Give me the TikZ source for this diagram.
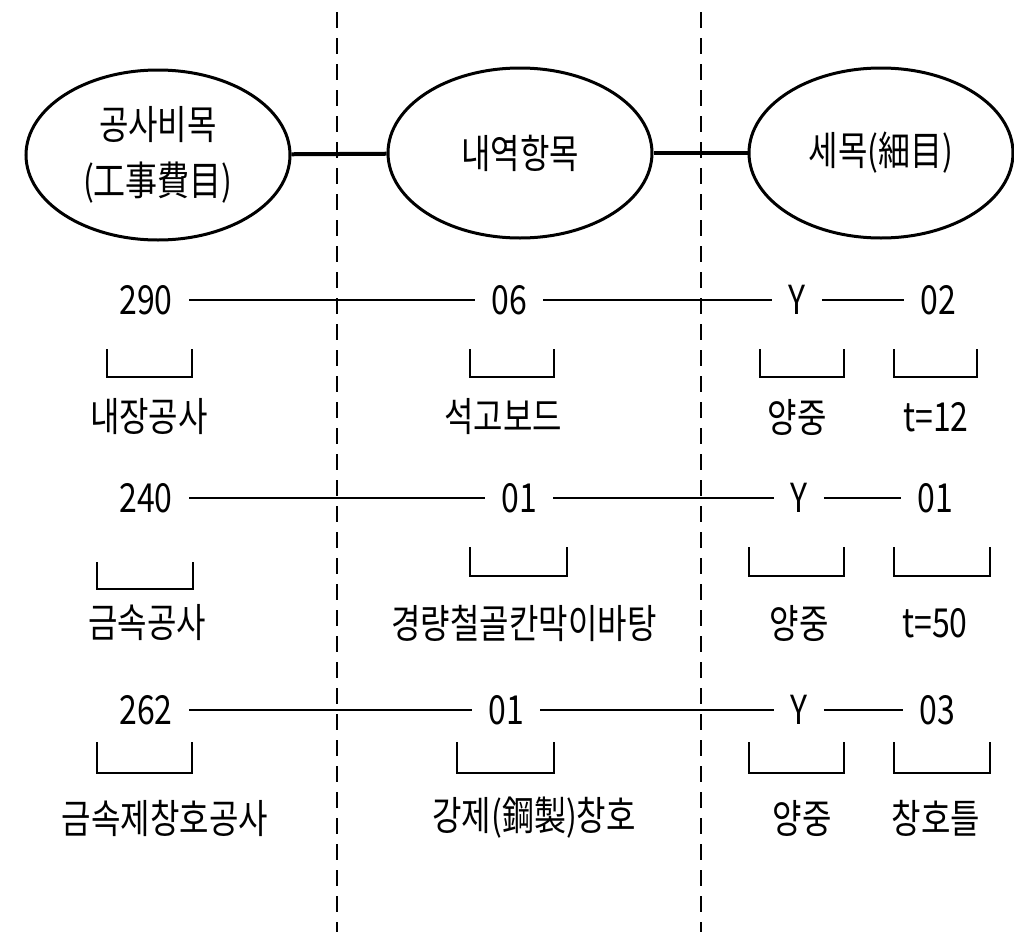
\documentclass[tikz,border=0pt]{standalone}
\usepackage{fontspec}
\setmainfont{Noto Sans CJK KR}[FakeStretch=0.8]
\usetikzlibrary{shapes.geometric}

\begin{document}
\begin{tikzpicture}[x=0.5pt, y=-0.5pt,
                    every node/.style={font=\fontsize{20}{28}\selectfont},
                    main node/.style={ellipse,draw,line width=1.5pt,minimum width=132pt,minimum height=85pt,inner sep=0pt,align=center},
                    code node/.style={inner xsep=8pt,inner ysep=2pt},
                    link/.style={line width=2pt},
                    thin link/.style={line width=1pt},
                    bracket/.style={line width=1pt},
                    divider/.style={line width=1pt,dash pattern=on 8pt off 5pt}]

   \useasboundingbox (0,0) rectangle (1014,932);

   % dividers
   \draw[divider] (337,12) -- (337,932);
   \draw[divider] (701,12) -- (701,932);

   % headings
   \node[main node] (e1) at (158,155) {공사비목\\(工事費目)};
   \node[main node] (e2) at (520,153) {내역항목};
   \node[main node] (e3) at (881,153) {세목(細目)};
   \draw[link] (e1) -- (e2);
   \draw[link] (e2) -- (e3);

   % first row
   \node[code node] (11) at (146,300) {290};
   \node[code node] (12) at (509,300) {06};
   \node[code node] (13) at (797,300) {Y};
   \node[code node] (14) at (938,300) {02};
   \draw[thin link] (11) -- (12);
   \draw[thin link] (12) -- (13);
   \draw[thin link] (13) -- (14);
   \draw[bracket] (107,349) |- (192,377) -- (192,349);
   \draw[bracket] (470,349) |- (554,377) -- (554,349);
   \draw[bracket] (760,349) |- (844,377) -- (844,349);
   \draw[bracket] (894,349) |- (977,377) -- (977,349);
   \node (l11) at (149,417) {내장공사};
   \node (l12) at (503,417) {석고보드};
   \node (l13) at (797,417) {양중};
   \node (l14) at (936,417) {t=12};

   % second row
   \node[code node] (21) at (146,498) {240};
   \node[code node] (22) at (519,498) {01};
   \node[code node] (23) at (799,498) {Y};
   \node[code node] (24) at (935,498) {01};
   \draw[thin link] (21) -- (22);
   \draw[thin link] (22) -- (23);
   \draw[thin link] (23) -- (24);
   \draw[bracket] (97,562) |- (193,589) -- (193,562);
   \draw[bracket] (470,547) |- (567,576) -- (567,547);
   \draw[bracket] (749,547) |- (844,576) -- (844,547);
   \draw[bracket] (894,547) |- (990,576) -- (990,547);
   \node (l21) at (147,623) {금속공사};
   \node (l22) at (524,623) {경량철골칸막이바탕};
   \node (l23) at (799,623) {양중};
   \node (l24) at (935,623) {t=50};

   % third row
   \node[code node] (31) at (146,710) {262};
   \node[code node] (32) at (506,710) {01};
   \node[code node] (33) at (799,710) {Y};
   \node[code node] (34) at (937,710) {03};
   \draw[thin link] (31) -- (32);
   \draw[thin link] (32) -- (33);
   \draw[thin link] (33) -- (34);
   \draw[bracket] (97,742) |- (192,773) -- (192,742);
   \draw[bracket] (457,742) |- (554,773) -- (554,742);
   \draw[bracket] (749,742) |- (844,773) -- (844,742);
   \draw[bracket] (894,742) |- (990,773) -- (990,742);
   \node (l31) at (165,818) {금속제창호공사};
   \node (l32) at (534,818) {강제(鋼製)창호};
   \node (l33) at (802,818) {양중};
   \node (l34) at (936,818) {창호틀};

\end{tikzpicture}
\end{document}
